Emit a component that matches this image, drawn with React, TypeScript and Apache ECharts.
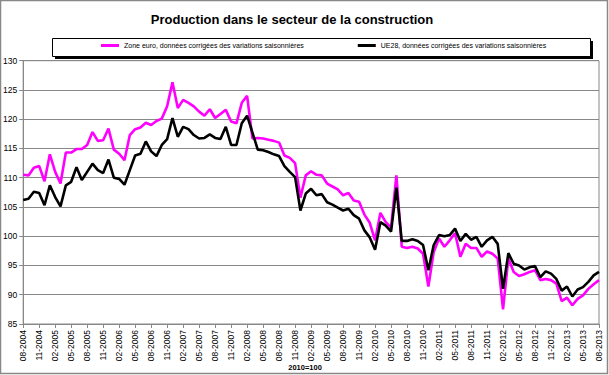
import React, { useEffect, useRef } from "react";
import * as echarts from "echarts";

const FONT = "'Liberation Sans', Arial, sans-serif";

const TITLE = "Production dans le secteur de la construction";
const SERIES_NAMES = [
  "Zone euro, données corrigées des variations saisonnières",
  "UE28, données corrigées des variations saisonnières",
];
const UNIT_LABEL = "2010=100";

// Monthly categories 08-2004 .. 08-2013
const months: string[] = [];
for (let i = 0; i < 109; i++) {
  const m = ((7 + i) % 12) + 1;
  const y = 2004 + Math.floor((7 + i) / 12);
  months.push(`${String(m).padStart(2, "0")}-${y}`);
}

const zoneEuro: number[] = [
  110.5, 110.4, 111.7, 112.0, 109.4, 114.0, 111.0, 109.0, 114.3, 114.3,
  114.9, 114.9, 115.6, 117.8, 116.3, 116.4, 118.4, 114.8, 114.1, 113.0,
  117.3, 118.3, 118.6, 119.4, 119.0, 119.7, 120.1, 122.2, 126.3, 121.9,
  123.3, 122.8, 122.2, 121.3, 120.6, 121.7, 120.2, 120.9, 121.6, 119.6,
  119.3, 122.8, 124.0, 116.7, 116.8, 116.7, 116.5, 116.3, 116.0, 113.8,
  113.4, 112.5, 106.6, 110.4, 111.1, 110.5, 110.4, 109.0, 108.5, 108.0,
  107.0, 107.4, 106.1, 105.9, 103.7, 102.3, 99.3, 104.0, 102.4, 101.5,
  110.4, 98.2, 98.0, 98.2, 97.9, 97.0, 91.4, 97.3, 99.6, 98.2,
  99.3, 100.5, 96.5, 98.7, 98.0, 98.0, 96.5, 97.4, 97.0, 96.2,
  87.5, 96.2, 93.9, 93.2, 93.5, 93.9, 94.2, 92.5, 92.7, 92.5,
  91.9, 88.9, 89.5, 88.2, 89.3, 89.9, 91.0, 91.8, 92.5,
];

const ue28: number[] = [
  106.2, 106.4, 107.6, 107.4, 105.3, 108.7, 106.7, 105.1, 108.7, 109.3,
  111.8, 109.6, 111.0, 112.4, 111.3, 110.8, 113.1, 110.0, 109.8, 108.8,
  111.3, 113.8, 114.1, 116.2, 114.5, 113.7, 115.6, 116.6, 120.2, 117.0,
  118.7, 118.3, 117.3, 116.7, 116.8, 117.4, 116.8, 116.6, 118.7, 115.6,
  115.6, 119.3, 120.6, 117.7, 114.8, 114.7, 114.4, 114.0, 113.7, 112.0,
  111.0, 110.1, 104.4, 107.3, 108.1, 107.0, 107.2, 105.8, 105.4, 104.9,
  104.4, 104.7, 103.6, 103.0, 101.0, 99.8, 97.7, 102.4, 101.8, 100.8,
  108.3, 99.2, 99.2, 99.5, 99.2, 98.5, 94.2, 98.5, 100.2, 100.0,
  100.2, 101.3, 99.2, 100.4, 99.4, 99.9, 98.2, 99.3, 99.9, 98.7,
  91.0, 97.1, 95.3, 95.0, 94.3, 94.7, 94.9, 93.0, 94.0, 93.6,
  92.7, 90.7, 91.4, 89.7, 90.9, 91.3, 92.2, 93.3, 93.9,
];

const COLORS = ["#ff00ff", "#000000"];

export default function App() {
  const ref = useRef<HTMLDivElement>(null);
  useEffect(() => {
    if (!ref.current) return;
    const chart = echarts.init(ref.current, null, { renderer: "svg" });
    chart.setOption({
      animation: false,
      backgroundColor: "#ffffff",
      textStyle: { fontFamily: FONT },
      graphic: [
        {
          type: "rect",
          z: 0,
          shape: { x: 0.5, y: 0.5, width: 607, height: 373 },
          style: { fill: "none", stroke: "#888888", lineWidth: 1.5 },
        },
        {
          type: "rect",
          z: 1,
          shape: { x: 55, y: 41, width: 538, height: 18 },
          style: { fill: "#000000" },
        },
        {
          type: "rect",
          z: 2,
          shape: { x: 52.5, y: 38.5, width: 538, height: 18 },
          style: { fill: "#ffffff", stroke: "#000000", lineWidth: 1 },
        },
        {
          type: "text",
          z: 3,
          x: 292,
          y: 19,
          style: {
            text: TITLE,
            fontFamily: FONT,
            fontSize: 13,
            fontWeight: "bold",
            fill: "#000000",
            align: "center",
            verticalAlign: "middle",
          },
        },
        {
          type: "text",
          z: 3,
          x: 305,
          y: 367,
          style: {
            text: UNIT_LABEL,
            fontFamily: FONT,
            fontSize: 7.5,
            fontWeight: "bold",
            fill: "#000000",
            align: "center",
            verticalAlign: "middle",
          },
        },
      ],
      legend: {
        data: SERIES_NAMES,
        left: 101,
        top: 42,
        padding: 0,
        itemWidth: 18,
        itemHeight: 3,
        itemGap: 54,
        icon: "rect",
        z: 10,
        textStyle: { fontSize: 7, color: "#000000", fontFamily: FONT },
      },
      grid: {
        left: 23,
        right: 10,
        top: 60.7,
        bottom: 51,
        show: true,
        borderColor: "#888888",
        borderWidth: 1,
        backgroundColor: "transparent",
      },
      xAxis: {
        type: "category",
        data: months,
        boundaryGap: false,
        axisLine: { lineStyle: { color: "#888888", width: 1 } },
        axisTick: {
          show: true,
          interval: 2,
          length: 4,
          lineStyle: { color: "#888888" },
        },
        axisLabel: {
          interval: 2,
          rotate: 90,
          fontSize: 8.5,
          color: "#000000",
          margin: 6,
          fontFamily: FONT,
        },
        splitLine: { show: false },
      },
      yAxis: {
        type: "value",
        min: 85,
        max: 130,
        interval: 5,
        axisLine: { show: true, lineStyle: { color: "#888888", width: 1 } },
        axisTick: { show: true, length: 4, lineStyle: { color: "#888888" } },
        axisLabel: {
          fontSize: 8.5,
          color: "#000000",
          margin: 6,
          fontFamily: FONT,
        },
        splitLine: { lineStyle: { color: "#888888", width: 1 } },
      },
      series: [
        {
          name: SERIES_NAMES[0],
          type: "line",
          data: zoneEuro,
          symbol: "none",
          showSymbol: false,
          z: 2,
          lineStyle: { color: COLORS[0], width: 2.6 },
          itemStyle: { color: COLORS[0] },
        },
        {
          name: SERIES_NAMES[1],
          type: "line",
          data: ue28,
          symbol: "none",
          showSymbol: false,
          z: 3,
          lineStyle: { color: COLORS[1], width: 2.6 },
          itemStyle: { color: COLORS[1] },
        },
      ],
    });
    return () => chart.dispose();
  }, []);
  return (
    <div
      ref={ref}
      style={{
        position: "fixed",
        left: 0,
        top: 0,
        width: 609,
        height: 375,
        background: "#ffffff",
      }}
    />
  );
}
